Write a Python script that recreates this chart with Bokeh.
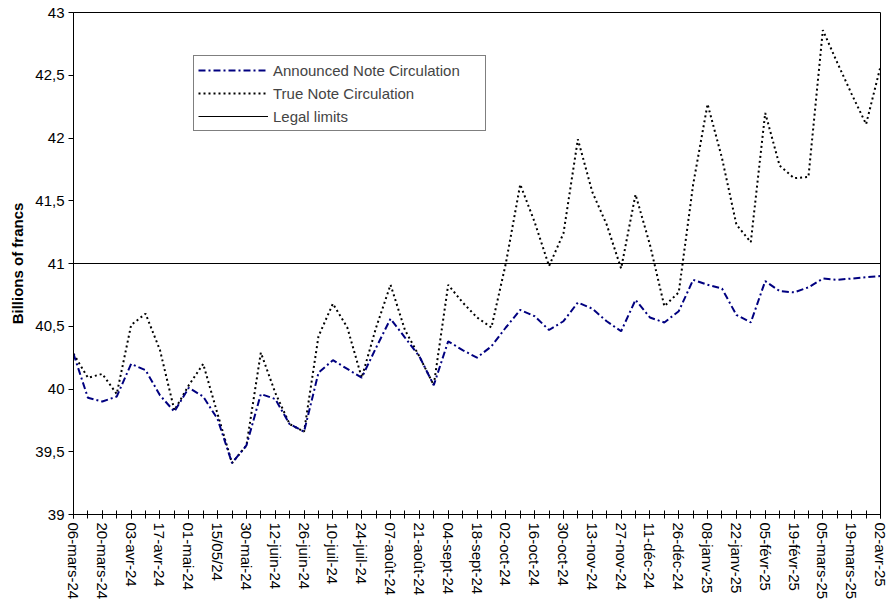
import math
from bokeh.plotting import figure
from bokeh.models import Range1d, FixedTicker, CustomJSTickFormatter, Legend, LegendItem
from bokeh.embed import file_html
from bokeh.resources import INLINE

# Weekly observations, 06-mars-24 .. 02-avr-25 (57 weeks)
announced = [40.28, 39.93, 39.90, 39.94, 40.20, 40.15, 39.95, 39.82, 40.01, 39.94,
             39.76, 39.41, 39.55, 39.96, 39.92, 39.72, 39.66, 40.13, 40.23, 40.16,
             40.09, 40.33, 40.56, 40.41, 40.26, 40.03, 40.38, 40.31, 40.25, 40.34,
             40.49, 40.63, 40.58, 40.47, 40.54, 40.69, 40.64, 40.54, 40.46, 40.71,
             40.57, 40.53, 40.62, 40.87, 40.83, 40.80, 40.59, 40.53, 40.86, 40.78,
             40.77, 40.81, 40.88, 40.87, 40.88, 40.89, 40.90]
true_circ = [40.28, 40.09, 40.12, 39.96, 40.51, 40.60, 40.31, 39.83, 40.03, 40.20,
             39.80, 39.41, 39.55, 40.29, 39.97, 39.72, 39.66, 40.42, 40.68, 40.49,
             40.09, 40.49, 40.83, 40.47, 40.26, 40.03, 40.83, 40.69, 40.57, 40.49,
             41.00, 41.63, 41.33, 40.98, 41.24, 41.99, 41.57, 41.31, 40.96, 41.55,
             41.15, 40.66, 40.77, 41.63, 42.27, 41.84, 41.31, 41.17, 42.20, 41.78,
             41.68, 41.69, 42.86, 42.60, 42.35, 42.11, 42.57]
legal_limit = 41.0

tick_labels = ["06-mars-24", "20-mars-24", "03-avr-24", "17-avr-24", "01-mai-24",
               "15/05/24", "30-mai-24", "12-juin-24", "26-juin-24", "10-juil-24",
               "24-juil-24", "07-août-24", "21-août-24", "04-sept-24", "18-sept-24",
               "02-oct-24", "16-oct-24", "30-oct-24", "13-nov-24", "27-nov-24",
               "11-déc-24", "26-déc-24", "08-janv-25", "22-janv-25", "05-févr-25",
               "19-févr-25", "05-mars-25", "19-mars-25", "02-avr-25"]
y_ticks = [39, 39.5, 40, 40.5, 41, 41.5, 42, 42.5, 43]

n = len(announced)
idx = list(range(n))
label_pos = idx[::2]

FONT = "Liberation Sans"

p = figure(width=888, height=602, output_backend="svg", toolbar_location=None,
           x_range=Range1d(idx[0], idx[-1]), y_range=Range1d(y_ticks[0], y_ticks[-1]),
           min_border_left=73, min_border_right=8, min_border_top=12, min_border_bottom=0)
p.xgrid.visible = False
p.ygrid.visible = False
p.outline_line_color = "black"
p.outline_line_width = 1
p.background_fill_color = "white"

# x axis
xa = p.xaxis[0]
xa.ticker = FixedTicker(ticks=label_pos, minor_ticks=idx)
xa.major_label_overrides = {i: lab for i, lab in zip(label_pos, tick_labels)}
xa.major_label_orientation = "vertical"
xa.major_label_text_font = FONT
xa.major_label_text_font_size = "15px"
xa.major_label_text_color = "black"
xa.major_label_standoff = 4
xa.major_tick_in = 4
xa.major_tick_out = 4
xa.minor_tick_in = 4
xa.minor_tick_out = 4
xa.major_tick_line_color = "black"
xa.minor_tick_line_color = "black"
xa.axis_line_color = "black"

# y axis
ya = p.yaxis[0]
ya.ticker = FixedTicker(ticks=y_ticks)
ya.formatter = CustomJSTickFormatter(code="return tick.toString().replace('.', ',');")
ya.major_label_text_font = FONT
ya.major_label_text_font_size = "15px"
ya.major_label_text_color = "black"
ya.major_label_standoff = 4
ya.major_tick_in = 0
ya.major_tick_out = 5
ya.minor_tick_line_color = None
ya.major_tick_line_color = "black"
ya.axis_line_color = "black"
ya.axis_label = "Billions of francs"
ya.axis_label_text_font = FONT
ya.axis_label_text_font_size = "15px"
ya.axis_label_text_font_style = "bold"
ya.axis_label_text_color = "black"
ya.axis_label_standoff = 6

r_legal = p.line([idx[0], idx[-1]], [legal_limit, legal_limit], line_color="black", line_width=1)
r_true = p.line(idx, true_circ, line_color="black", line_width=2, line_dash="2 3")
r_ann = p.line(idx, announced, line_color="#000080", line_width=2, line_dash="7 3 2 3")

legend = Legend(items=[LegendItem(label="Announced Note Circulation", renderers=[r_ann]),
                       LegendItem(label="True Note Circulation", renderers=[r_true]),
                       LegendItem(label="Legal limits", renderers=[r_legal])],
                location=(120, 383), padding=4, spacing=3, label_height=20,
                glyph_height=20, glyph_width=70, label_standoff=5, label_width=208,
                label_text_font=FONT, label_text_font_size="15px",
                border_line_color="black", border_line_width=1,
                background_fill_color="white", background_fill_alpha=1.0,
                margin=0)
p.add_layout(legend)

open("out.html", "w").write(file_html(p, INLINE))
